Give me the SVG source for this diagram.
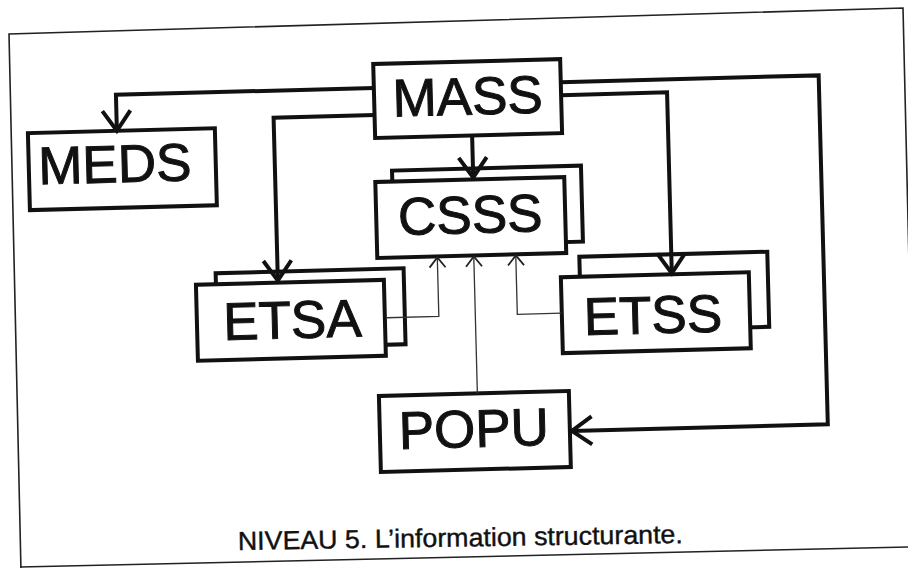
<svg xmlns="http://www.w3.org/2000/svg" width="908" height="568" viewBox="0 0 908 568">
  <style>
    .box { fill: #fff; stroke: #111; stroke-width: 4; }
    .lbl { font-family: "Liberation Sans", Arial, sans-serif; font-size: 53px; fill: #111; stroke: #111; stroke-width: 1; text-anchor: middle; }
    .thick { fill: none; stroke: #111; stroke-width: 4; stroke-linejoin: miter; }
    .thin { fill: none; stroke: #333; stroke-width: 1.3; }
    .frame { fill: none; stroke: #222; stroke-width: 1.6; }
    .cap { font-family: "Liberation Sans", Arial, sans-serif; font-size: 26px; fill: #111; stroke: #111; stroke-width: 0.4; }
  </style>
  <defs>
    <marker id="ah" markerUnits="userSpaceOnUse" markerWidth="40" markerHeight="40" refX="0" refY="0" orient="auto" overflow="visible">
      <path d="M-20,-14 L0,0 L-20,14" fill="none" stroke="#111" stroke-width="4"/>
    </marker>
    <marker id="ahs" markerUnits="userSpaceOnUse" markerWidth="20" markerHeight="20" refX="0" refY="0" orient="auto" overflow="visible">
      <path d="M-10,-8 L0,0 L-10,8" fill="none" stroke="#222" stroke-width="1.8"/>
    </marker>
  </defs>
  <rect x="0" y="0" width="908" height="568" fill="#fff"/>
  <path class="frame" d="M21,571 L9,34 L903,8 L916,560"/>
  <path class="frame" d="M20,567 L908,547"/>

  <g transform="rotate(-1.5 454 284)">
    <g id="MASS">
      <rect class="box" x="379" y="62" width="187" height="74"/>
      <text class="lbl" x="472.5" y="115">MASS</text>
    </g>
    <g id="MEDS">
      <rect class="box" x="32" y="122" width="187" height="77"/>
      <text class="lbl" x="118" y="173.5">MEDS</text>
    </g>
    <g id="CSSS">
      <rect class="box" x="395" y="169" width="189" height="76"/>
      <rect class="box" x="378" y="180" width="189" height="76"/>
      <text class="lbl" x="472" y="233.5">CSSS</text>
    </g>
    <g id="ETSA">
      <rect class="box" x="216" y="267" width="188" height="76"/>
      <rect class="box" x="196" y="278" width="188" height="76"/>
      <text class="lbl" x="291.5" y="334">ETSA</text>
    </g>
    <g id="ETSS">
      <rect class="box" x="580" y="260" width="188" height="75"/>
      <rect class="box" x="561" y="280" width="188" height="76"/>
      <text class="lbl" x="652" y="338.5">ETSS</text>
    </g>
    <g id="POPU">
      <rect class="box" x="376" y="394" width="190" height="76"/>
      <text class="lbl" x="470" y="447.5">POPU</text>
    </g>
    <g id="connectors">
      <path class="thick" d="M379,86 H121 V122" marker-end="url(#ah)"/>
      <path class="thick" d="M379,113 H278 V276" marker-end="url(#ah)"/>
      <path class="thick" d="M476,136 V178" marker-end="url(#ah)"/>
      <path class="thick" d="M566,98 H672 V279" marker-end="url(#ah)"/>
      <path class="thick" d="M566,85 H824 V434 H568" marker-end="url(#ah)"/>
      <path class="thin" d="M386,316 H438 V257" marker-end="url(#ahs)"/>
      <path class="thin" d="M474.5,394 V257" marker-end="url(#ahs)"/>
      <path class="thin" d="M561,316 H516.5 V257" marker-end="url(#ahs)"/>
    </g>
  </g>

  <text class="cap" x="238" y="550" transform="rotate(-0.9 238 550)" textLength="445" lengthAdjust="spacingAndGlyphs">NIVEAU 5. L’information structurante.</text>
</svg>
